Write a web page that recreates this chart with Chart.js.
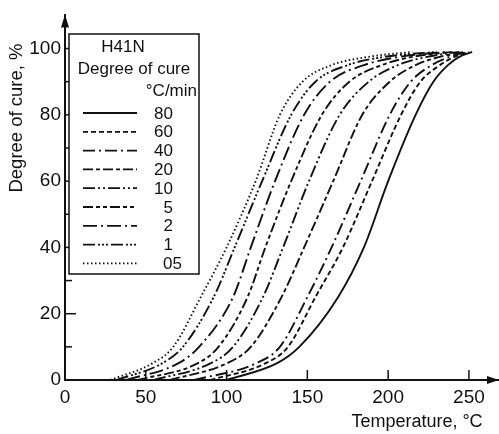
<!DOCTYPE html>
<html>
<head>
<meta charset="utf-8">
<script src="https://cdn.jsdelivr.net/npm/chart.js@4"></script>
<style>
  html, body { margin: 0; padding: 0; background: #fff; }
  #wrap { width: 499px; height: 434px; }
</style>
</head>
<body>
<div id="wrap"><canvas id="cureChart"></canvas></div>
<script>
/* ========= DATA ========= */
// degree of cure levels (%) read off for every curve
const cureLevels = [0, 5, 10, 25, 40, 60, 80, 90, 95, 97.5, 99];

// temperature (°C) where each heating rate reaches the levels above
const temp80 = [100, 131, 145, 169, 185, 200, 217, 228, 237, 244, 252];
const temp60 = [90, 124, 138, 155, 172, 190, 208, 220, 232, 241, 250];
const temp40 = [80, 118, 133, 150, 165, 183, 201, 214, 227, 238, 249];
const temp20 = [65, 100, 115, 134, 148, 166, 184, 201, 217, 232, 247];
const temp10 = [55, 90, 104, 122.5, 135, 151, 170, 188, 206, 224, 244];
const temp5 = [45, 82, 95, 113, 124, 140, 159, 176, 196, 215, 240];
const temp2 = [38, 70, 83, 104, 115, 130, 148, 164, 185, 207, 236];
const temp1 = [32, 60, 73, 92, 105, 122, 140, 155, 175, 198, 230];
const temp05 = [28, 54, 67, 84, 100, 118, 133, 147, 165, 188, 215];

const rateLabels = ["80", "60", "40", "20", "10", "5", "2", "1", "05"];
const xTicks = [0, 50, 100, 150, 200, 250];
const yTicks = [0, 20, 40, 60, 80, 100];

const allTemps = [temp80, temp60, temp40, temp20, temp10, temp5, temp2, temp1, temp05];
const dashes = [
  [],
  [5, 3],
  [12, 4, 2, 4],
  [10, 3, 4, 3],
  [12, 3, 2, 3, 2, 3],
  [10, 3, 4, 3, 4, 3],
  [14, 4, 2, 4],
  [12, 3, 2, 2, 2, 2, 2, 3],
  [1.5, 2.5]
];

const FONT = "'Liberation Sans', Arial, sans-serif";

function toPoints(temps) {
  return temps.map((t, i) => ({ x: t, y: cureLevels[i] }));
}

/* ========= EXTRA DRAWING: ticks, arrows, titles, legend ========= */
const decorPlugin = {
  id: "decor",
  afterDraw(chart) {
    const ctx = chart.ctx;
    const xs = chart.scales.x, ys = chart.scales.y;
    const area = chart.chartArea;
    ctx.save();
    ctx.strokeStyle = "#111";
    ctx.fillStyle = "#111";
    ctx.lineWidth = 1.5;

    // inward ticks on y axis (minor every 10)
    for (let v = 10; v <= 100; v += 10) {
      const py = ys.getPixelForValue(v);
      const len = v % 20 === 0 ? 11 : 7;
      ctx.beginPath();
      ctx.moveTo(area.left, py);
      ctx.lineTo(area.left + len, py);
      ctx.stroke();
    }
    // inward ticks on x axis
    xTicks.slice(1).forEach(v => {
      const px = xs.getPixelForValue(v);
      ctx.beginPath();
      ctx.moveTo(px, area.bottom);
      ctx.lineTo(px, area.bottom - 10);
      ctx.stroke();
    });

    // arrow heads
    ctx.beginPath();
    ctx.moveTo(area.left, area.top - 1);
    ctx.lineTo(area.left - 4, area.top + 12);
    ctx.lineTo(area.left + 4, area.top + 12);
    ctx.closePath();
    ctx.fill();
    ctx.beginPath();
    ctx.moveTo(area.right + 1, area.bottom);
    ctx.lineTo(area.right - 11, area.bottom - 4);
    ctx.lineTo(area.right - 11, area.bottom + 4);
    ctx.closePath();
    ctx.fill();

    // axis titles
    ctx.font = "18.5px " + FONT;
    ctx.textAlign = "center";
    ctx.textBaseline = "middle";
    ctx.save();
    ctx.translate(17, 118);
    ctx.rotate(-Math.PI / 2);
    ctx.fillText("Degree of cure, %", 0, 0);
    ctx.restore();
    ctx.font = "18px " + FONT;
    ctx.fillText("Temperature, \u00b0C", 417, 422);

    // legend box
    ctx.lineWidth = 1.5;
    ctx.fillStyle = "#fff";
    ctx.fillRect(69, 34, 130, 240);
    ctx.strokeRect(69, 34, 130, 240);
    ctx.fillStyle = "#111";
    ctx.font = "17px " + FONT;
    ctx.textAlign = "center";
    ctx.fillText("H41N", 123, 47);
    ctx.fillText("Degree of cure", 134, 69);
    ctx.textAlign = "right";
    ctx.fillText("\u00b0C/min", 197, 91);

    chart.data.datasets.forEach((ds, i) => {
      const y = 113 + i * 18.8;
      ctx.setLineDash(ds.borderDash);
      ctx.lineWidth = 1.8;
      ctx.beginPath();
      ctx.moveTo(83, y);
      ctx.lineTo(137, y);
      ctx.stroke();
      ctx.setLineDash([]);
      if (ds.label === "05") {
        ctx.textAlign = "left";
        ctx.fillText(ds.label, 163, y + 1);
      } else {
        ctx.textAlign = "right";
        ctx.fillText(ds.label, 173, y + 1);
      }
    });
    ctx.restore();
  }
};

/* ========= CREATE CHART ========= */
function initChart() {
  Chart.defaults.font.family = FONT;
  Chart.defaults.color = "#111";

  const datasets = rateLabels.map((lab, i) => ({
    label: lab,
    data: toPoints(allTemps[i]),
    borderColor: "#111",
    borderWidth: 1.9,
    borderDash: dashes[i],
    pointRadius: 0,
    showLine: true,
    fill: false,
    cubicInterpolationMode: "monotone"
  }));

  new Chart(document.getElementById("cureChart"), {
    type: "scatter",
    data: { datasets: datasets },
    options: {
      responsive: true,
      maintainAspectRatio: false,
      animation: false,
      layout: { padding: { left: 0, top: 14, right: 1, bottom: 0 } },
      plugins: { legend: { display: false }, tooltip: { enabled: false } },
      scales: {
        x: {
          type: "linear",
          min: 0,
          max: 268,
          afterFit(scale) { scale.height = 54; },
          grid: { display: false, drawTicks: false },
          border: { display: true, color: "#111", width: 2 },
          ticks: {
            stepSize: 50,
            includeBounds: false,
            padding: 6,
            font: { size: 19 },
            maxRotation: 0,
            callback: v => (xTicks.includes(v) ? v : "")
          }
        },
        y: {
          type: "linear",
          min: 0,
          max: 110,
          afterFit(scale) { scale.width = 65; },
          grid: { display: false, drawTicks: false },
          border: { display: true, color: "#111", width: 2 },
          ticks: {
            stepSize: 10,
            padding: 4,
            font: { size: 19 },
            callback: v => (yTicks.includes(v) ? v : "")
          }
        }
      }
    },
    plugins: [decorPlugin]
  });
}

/* ========= START ========= */
document.addEventListener("DOMContentLoaded", initChart);
</script>
</body>
</html>
